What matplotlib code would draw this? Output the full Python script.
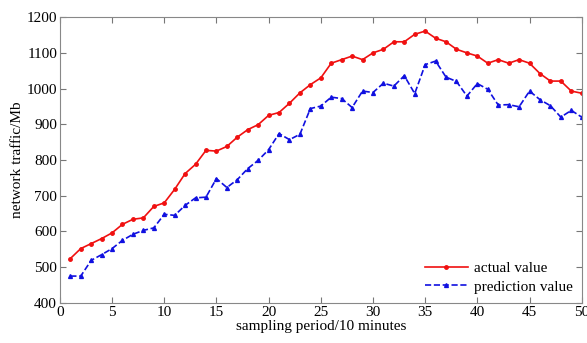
import matplotlib
matplotlib.use('Agg')
import matplotlib.pyplot as plt

periods = list(range(1, 51))
actual = [524, 552, 566, 580, 596, 620, 634, 638, 670, 680,
          718, 762, 788, 827, 825, 838, 864, 885, 899, 925,
          933, 959, 988, 1011, 1030, 1071, 1081, 1091, 1081, 1100,
          1110, 1131, 1131, 1152, 1161, 1141, 1131, 1110, 1100, 1091,
          1071, 1081, 1071, 1081, 1071, 1042, 1021, 1021, 993, 987]
predicted = [475, 475, 519, 535, 552, 575, 592, 603, 610, 648,
             645, 673, 694, 696, 748, 723, 745, 776, 799, 829,
             874, 857, 872, 944, 951, 976, 972, 947, 993, 989,
             1015, 1007, 1036, 986, 1067, 1077, 1032, 1020, 979, 1014,
             998, 954, 955, 949, 993, 969, 952, 920, 939, 920]

plt.rcParams['font.family'] = ['Liberation Serif', 'DejaVu Serif']

fig = plt.figure(figsize=(5.87, 3.43), dpi=100)
ax = fig.add_axes([0.102, 0.117, 0.889, 0.833])

ax.plot(periods, actual, color='#f01010', lw=1.2, marker='o', ms=2.5,
        label='actual value')
ax.plot(periods, predicted, color='#1010e0', lw=1.2, ls='--', marker='^',
        ms=2.8, label='prediction value')

ax.set_xlim(0, 50)
ax.set_ylim(400, 1200)
ax.set_xticks(range(0, 51, 5))
ax.set_yticks(range(400, 1201, 100))
ax.tick_params(direction='in', top=True, right=True, labelsize=11,
               length=4, color='#777777', pad=2)
for s in ax.spines.values():
    s.set_color('#888888')
    s.set_linewidth(0.8)

ax.set_xlabel('sampling period/10 minutes', fontsize=11, labelpad=1)
ax.set_ylabel('network traffic/Mb', fontsize=11, labelpad=2)

ax.legend(loc='lower right', frameon=False, fontsize=11, handlelength=2.8,
          numpoints=1, borderaxespad=0.2, labelspacing=0.3,
          handletextpad=0.4)

fig.savefig('out.png', dpi=100)
